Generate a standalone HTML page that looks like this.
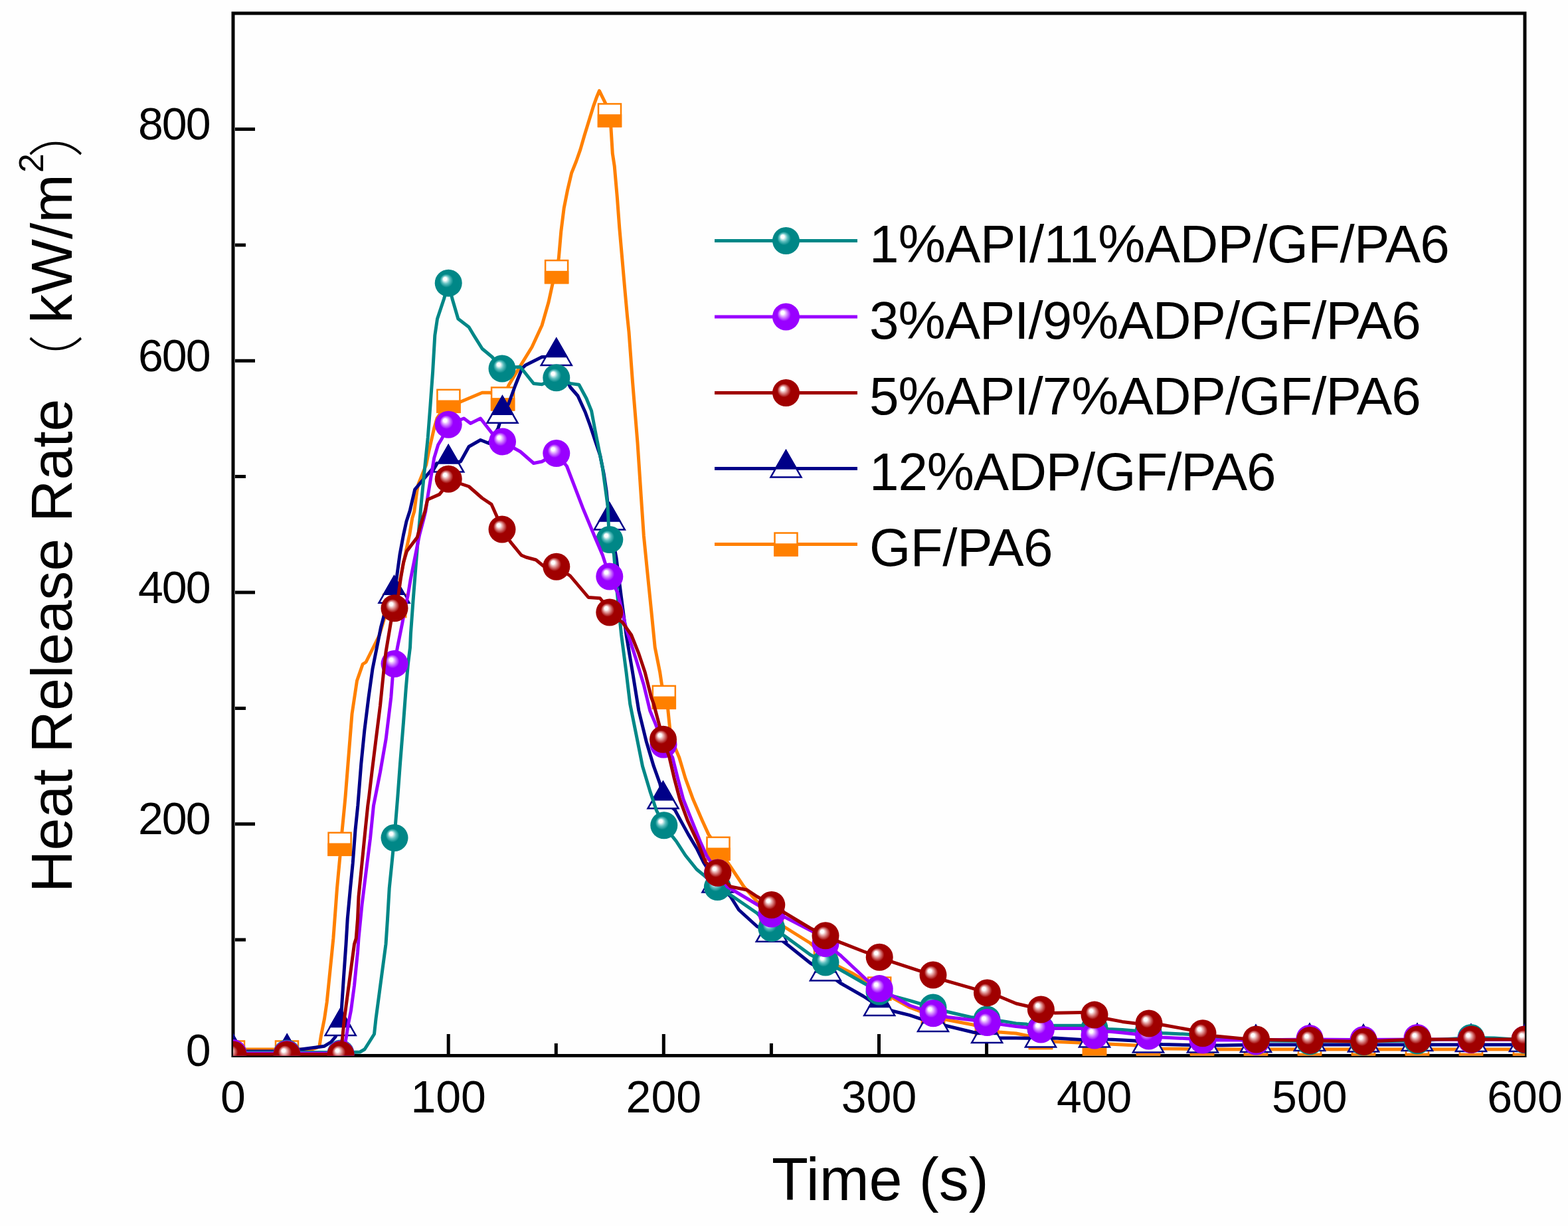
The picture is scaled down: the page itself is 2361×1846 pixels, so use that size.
<!DOCTYPE html>
<html><head><meta charset="utf-8"><title>Heat Release Rate</title>
<style>html,body{margin:0;padding:0;background:#fefefe;overflow:hidden;}svg{display:block;}</style>
</head><body>
<svg xmlns="http://www.w3.org/2000/svg" width="2361" height="1846" viewBox="0 0 2361 1846">
<defs>
<clipPath id="clip"><rect x="351" y="20" width="1945" height="1569.5"/></clipPath>
<radialGradient id="gT" cx="0.5" cy="0.5" r="0.5" fx="0.36" fy="0.33"><stop offset="0" stop-color="#ffffff"/><stop offset="0.12" stop-color="#ffffff"/><stop offset="0.3" stop-color="#60c0c0"/><stop offset="0.5" stop-color="#008787"/><stop offset="1" stop-color="#008787"/></radialGradient>
<radialGradient id="gP" cx="0.5" cy="0.5" r="0.5" fx="0.36" fy="0.33"><stop offset="0" stop-color="#ffffff"/><stop offset="0.12" stop-color="#ffffff"/><stop offset="0.3" stop-color="#d080ff"/><stop offset="0.5" stop-color="#9900ff"/><stop offset="1" stop-color="#9900ff"/></radialGradient>
<radialGradient id="gR" cx="0.5" cy="0.5" r="0.5" fx="0.36" fy="0.33"><stop offset="0" stop-color="#ffffff"/><stop offset="0.12" stop-color="#ffffff"/><stop offset="0.3" stop-color="#d88080"/><stop offset="0.5" stop-color="#a00000"/><stop offset="1" stop-color="#a00000"/></radialGradient>
</defs>
<rect x="0" y="0" width="2361" height="1846" fill="#fefefe"/>
<path d="M513.1 1587V1571 M675.2 1587V1557 M837.3 1587V1571 M999.3 1587V1557 M1161.4 1587V1571 M1323.5 1587V1557 M1485.6 1587V1571 M1647.7 1587V1557 M1809.8 1587V1571 M1971.8 1587V1557 M2133.9 1587V1571 M354 1415.1H370 M354 1240.8H384 M354 1066.4H370 M354 892.0H384 M354 717.6H370 M354 543.2H384 M354 368.9H370 M354 194.5H384" stroke="#000" stroke-width="5" fill="none"/>
<rect x="351" y="20" width="1945" height="1569.5" fill="none" stroke="#000" stroke-width="5"/>
<g clip-path="url(#clip)" fill="none" stroke-linejoin="round" stroke-linecap="round">
<path d="M351.0 1580.0 L432.0 1580.0 L470.0 1580.0 L476.0 1578.0 L481.0 1575.0 L483.5 1559.0 L488.5 1534.0 L492.2 1509.0 L496.0 1471.5 L499.8 1434.0 L501.9 1413.0 L503.8 1387.5 L507.5 1337.5 L511.9 1290.0 L513.0 1271.0 L515.0 1251.9 L518.8 1213.0 L520.0 1200.0 L525.0 1137.5 L530.0 1075.0 L537.5 1025.0 L546.2 1000.0 L551.0 997.0 L571.0 957.0 L578.5 932.0 L594.0 912.0 L603.0 870.0 L611.7 828.0 L616.7 805.0 L620.8 780.0 L623.8 770.0 L627.8 739.4 L629.8 729.4 L633.8 719.5 L641.8 699.6 L645.7 679.6 L653.7 644.8 L658.0 630.0 L675.4 603.8 L693.5 605.0 L726.0 591.2 L738.5 591.2 L757.1 600.4 L766.0 580.0 L781.0 555.0 L801.0 522.5 L816.0 490.0 L826.0 455.0 L832.0 427.5 L838.1 409.1 L841.3 388.7 L844.8 348.4 L849.2 313.2 L854.4 286.9 L860.6 260.5 L867.6 243.0 L873.8 225.4 L879.9 204.3 L886.9 181.5 L894.0 158.6 L898.4 146.3 L902.4 136.7 L906.3 144.6 L911.5 155.1 L918.2 173.4 L920.0 193.4 L922.3 231.2 L925.2 250.0 L929.3 296.8 L932.8 343.7 L936.9 390.5 L941.0 437.4 L944.5 476.0 L947.0 500.0 L952.4 573.7 L960.0 667.0 L965.5 750.0 L969.3 806.2 L974.9 862.4 L980.6 918.6 L986.2 974.8 L993.7 1012.3 L996.5 1031.0 L1000.2 1049.8 L1000.2 1049.8 L1004.9 1060.0 L1008.7 1097.5 L1014.0 1120.0 L1022.7 1140.5 L1032.1 1172.1 L1043.7 1203.8 L1057.4 1235.4 L1066.9 1256.4 L1081.5 1277.7 L1100.0 1305.0 L1120.0 1335.0 L1140.0 1357.5 L1161.8 1378.0 L1180.0 1395.0 L1220.0 1420.0 L1243.0 1440.0 L1262.5 1455.0 L1282.5 1465.0 L1324.2 1489.5 L1345.0 1503.0 L1370.0 1517.0 L1405.0 1530.0 L1423.0 1535.0 L1465.0 1543.0 L1486.0 1549.0 L1504.0 1554.0 L1530.0 1556.0 L1548.0 1559.6 L1567.0 1562.0 L1588.0 1568.4 L1625.0 1570.0 L1648.0 1576.0 L1669.0 1572.0 L1690.0 1573.0 L1708.4 1574.0 L1729.7 1577.0 L1750.0 1579.0 L1791.0 1579.5 L1830.0 1580.0 L2296.0 1580.0" stroke="#ff8000" stroke-width="5"/>
<rect x="334.0" y="1567.5" width="34" height="34" fill="#fff" stroke="#ff8000" stroke-width="2.5" stroke-linejoin="miter"/><rect x="334.0" y="1584.5" width="34" height="17" fill="#ff8000" stroke="#ff8000" stroke-width="2.5" stroke-linejoin="miter"/><rect x="415.0" y="1567.5" width="34" height="34" fill="#fff" stroke="#ff8000" stroke-width="2.5" stroke-linejoin="miter"/><rect x="415.0" y="1584.5" width="34" height="17" fill="#ff8000" stroke="#ff8000" stroke-width="2.5" stroke-linejoin="miter"/><rect x="494.6" y="1253.8" width="34" height="34" fill="#fff" stroke="#ff8000" stroke-width="2.5" stroke-linejoin="miter"/><rect x="494.6" y="1270.8" width="34" height="17" fill="#ff8000" stroke="#ff8000" stroke-width="2.5" stroke-linejoin="miter"/><rect x="577.0" y="895.0" width="34" height="34" fill="#fff" stroke="#ff8000" stroke-width="2.5" stroke-linejoin="miter"/><rect x="577.0" y="912.0" width="34" height="17" fill="#ff8000" stroke="#ff8000" stroke-width="2.5" stroke-linejoin="miter"/><rect x="658.4" y="586.8" width="34" height="34" fill="#fff" stroke="#ff8000" stroke-width="2.5" stroke-linejoin="miter"/><rect x="658.4" y="603.8" width="34" height="17" fill="#ff8000" stroke="#ff8000" stroke-width="2.5" stroke-linejoin="miter"/><rect x="740.1" y="583.4" width="34" height="34" fill="#fff" stroke="#ff8000" stroke-width="2.5" stroke-linejoin="miter"/><rect x="740.1" y="600.4" width="34" height="17" fill="#ff8000" stroke="#ff8000" stroke-width="2.5" stroke-linejoin="miter"/><rect x="821.1" y="392.1" width="34" height="34" fill="#fff" stroke="#ff8000" stroke-width="2.5" stroke-linejoin="miter"/><rect x="821.1" y="409.1" width="34" height="17" fill="#ff8000" stroke="#ff8000" stroke-width="2.5" stroke-linejoin="miter"/><rect x="901.0" y="156.4" width="34" height="34" fill="#fff" stroke="#ff8000" stroke-width="2.5" stroke-linejoin="miter"/><rect x="901.0" y="173.4" width="34" height="17" fill="#ff8000" stroke="#ff8000" stroke-width="2.5" stroke-linejoin="miter"/><rect x="982.8" y="1032.8" width="34" height="34" fill="#fff" stroke="#ff8000" stroke-width="2.5" stroke-linejoin="miter"/><rect x="982.8" y="1049.8" width="34" height="17" fill="#ff8000" stroke="#ff8000" stroke-width="2.5" stroke-linejoin="miter"/><rect x="1064.5" y="1260.7" width="34" height="34" fill="#fff" stroke="#ff8000" stroke-width="2.5" stroke-linejoin="miter"/><rect x="1064.5" y="1277.7" width="34" height="17" fill="#ff8000" stroke="#ff8000" stroke-width="2.5" stroke-linejoin="miter"/><rect x="1144.8" y="1361.0" width="34" height="34" fill="#fff" stroke="#ff8000" stroke-width="2.5" stroke-linejoin="miter"/><rect x="1144.8" y="1378.0" width="34" height="17" fill="#ff8000" stroke="#ff8000" stroke-width="2.5" stroke-linejoin="miter"/><rect x="1226.0" y="1423.0" width="34" height="34" fill="#fff" stroke="#ff8000" stroke-width="2.5" stroke-linejoin="miter"/><rect x="1226.0" y="1440.0" width="34" height="17" fill="#ff8000" stroke="#ff8000" stroke-width="2.5" stroke-linejoin="miter"/><rect x="1307.2" y="1471.6" width="34" height="34" fill="#fff" stroke="#ff8000" stroke-width="2.5" stroke-linejoin="miter"/><rect x="1307.2" y="1488.6" width="34" height="17" fill="#ff8000" stroke="#ff8000" stroke-width="2.5" stroke-linejoin="miter"/><rect x="1388.0" y="1513.0" width="34" height="34" fill="#fff" stroke="#ff8000" stroke-width="2.5" stroke-linejoin="miter"/><rect x="1388.0" y="1530.0" width="34" height="17" fill="#ff8000" stroke="#ff8000" stroke-width="2.5" stroke-linejoin="miter"/><rect x="1469.0" y="1532.0" width="34" height="34" fill="#fff" stroke="#ff8000" stroke-width="2.5" stroke-linejoin="miter"/><rect x="1469.0" y="1549.0" width="34" height="17" fill="#ff8000" stroke="#ff8000" stroke-width="2.5" stroke-linejoin="miter"/><rect x="1550.0" y="1545.0" width="34" height="34" fill="#fff" stroke="#ff8000" stroke-width="2.5" stroke-linejoin="miter"/><rect x="1550.0" y="1562.0" width="34" height="17" fill="#ff8000" stroke="#ff8000" stroke-width="2.5" stroke-linejoin="miter"/><rect x="1631.0" y="1561.8" width="34" height="34" fill="#fff" stroke="#ff8000" stroke-width="2.5" stroke-linejoin="miter"/><rect x="1631.0" y="1578.8" width="34" height="17" fill="#ff8000" stroke="#ff8000" stroke-width="2.5" stroke-linejoin="miter"/><rect x="1712.0" y="1570.0" width="34" height="34" fill="#fff" stroke="#ff8000" stroke-width="2.5" stroke-linejoin="miter"/><rect x="1712.0" y="1587.0" width="34" height="17" fill="#ff8000" stroke="#ff8000" stroke-width="2.5" stroke-linejoin="miter"/><rect x="1793.0" y="1570.0" width="34" height="34" fill="#fff" stroke="#ff8000" stroke-width="2.5" stroke-linejoin="miter"/><rect x="1793.0" y="1587.0" width="34" height="17" fill="#ff8000" stroke="#ff8000" stroke-width="2.5" stroke-linejoin="miter"/><rect x="1874.0" y="1570.0" width="34" height="34" fill="#fff" stroke="#ff8000" stroke-width="2.5" stroke-linejoin="miter"/><rect x="1874.0" y="1587.0" width="34" height="17" fill="#ff8000" stroke="#ff8000" stroke-width="2.5" stroke-linejoin="miter"/><rect x="1955.0" y="1570.0" width="34" height="34" fill="#fff" stroke="#ff8000" stroke-width="2.5" stroke-linejoin="miter"/><rect x="1955.0" y="1587.0" width="34" height="17" fill="#ff8000" stroke="#ff8000" stroke-width="2.5" stroke-linejoin="miter"/><rect x="2036.0" y="1570.0" width="34" height="34" fill="#fff" stroke="#ff8000" stroke-width="2.5" stroke-linejoin="miter"/><rect x="2036.0" y="1587.0" width="34" height="17" fill="#ff8000" stroke="#ff8000" stroke-width="2.5" stroke-linejoin="miter"/><rect x="2117.0" y="1570.0" width="34" height="34" fill="#fff" stroke="#ff8000" stroke-width="2.5" stroke-linejoin="miter"/><rect x="2117.0" y="1587.0" width="34" height="17" fill="#ff8000" stroke="#ff8000" stroke-width="2.5" stroke-linejoin="miter"/><rect x="2198.0" y="1570.0" width="34" height="34" fill="#fff" stroke="#ff8000" stroke-width="2.5" stroke-linejoin="miter"/><rect x="2198.0" y="1587.0" width="34" height="17" fill="#ff8000" stroke="#ff8000" stroke-width="2.5" stroke-linejoin="miter"/><rect x="2279.0" y="1570.0" width="34" height="34" fill="#fff" stroke="#ff8000" stroke-width="2.5" stroke-linejoin="miter"/><rect x="2279.0" y="1587.0" width="34" height="17" fill="#ff8000" stroke="#ff8000" stroke-width="2.5" stroke-linejoin="miter"/>
<path d="M351.0 1583.0 L430.0 1583.0 L476.0 1577.0 L488.5 1575.2 L498.5 1569.0 L504.8 1561.5 L512.7 1546.0 L515.0 1509.0 L517.5 1471.5 L521.0 1421.5 L523.2 1384.0 L527.5 1337.5 L531.2 1300.0 L535.0 1250.0 L538.8 1213.0 L543.8 1150.0 L548.8 1100.0 L555.0 1050.0 L561.0 1007.0 L573.5 944.5 L583.5 907.0 L593.5 894.8 L597.6 867.3 L602.0 835.0 L607.4 805.9 L612.0 785.0 L617.2 769.1 L624.6 737.2 L636.9 722.5 L651.6 705.3 L657.7 697.6 L675.2 697.6 L693.5 695.0 L706.0 672.5 L723.5 662.5 L736.0 667.5 L750.0 645.0 L756.5 623.8 L766.0 607.5 L776.0 580.0 L786.0 555.0 L791.0 550.0 L816.0 537.5 L837.8 537.0 L850.0 565.0 L858.7 583.0 L870.0 596.0 L881.2 620.5 L888.7 641.0 L896.2 663.6 L903.7 686.0 L909.3 714.0 L913.0 738.5 L917.8 784.5 L928.0 840.0 L935.6 900.0 L943.0 956.0 L952.5 1012.3 L961.8 1070.0 L973.1 1116.2 L984.3 1153.7 L993.7 1179.9 L999.3 1204.3 L1016.3 1219.6 L1024.8 1235.4 L1036.4 1256.4 L1049.0 1277.5 L1059.5 1298.6 L1070.0 1315.0 L1080.5 1330.4 L1100.0 1350.0 L1112.5 1370.0 L1140.0 1395.0 L1161.8 1404.8 L1182.5 1420.0 L1220.0 1450.0 L1243.0 1463.5 L1265.0 1480.0 L1300.0 1500.0 L1324.2 1516.0 L1345.0 1522.5 L1370.0 1528.6 L1384.7 1533.7 L1405.0 1540.0 L1422.7 1544.0 L1465.2 1554.2 L1486.2 1557.0 L1505.5 1563.0 L1530.0 1563.0 L1567.0 1563.5 L1588.0 1563.0 L1629.0 1565.5 L1648.0 1563.5 L1669.0 1565.0 L1690.0 1566.0 L1708.4 1567.0 L1729.7 1571.0 L1750.0 1572.5 L1791.0 1573.5 L1811.0 1574.0 L1840.0 1574.0 L1891.0 1573.0 L2296.0 1573.0" stroke="#000088" stroke-width="5"/>
<path d="M351.0 1558.0L374.0 1598.0L328.0 1598.0Z" fill="#fff" stroke="#000088" stroke-width="2.5" stroke-linejoin="miter"/><path d="M351.0 1558.0L366.5 1585.0L335.5 1585.0Z" fill="#000088" stroke="#000088" stroke-width="2.5" stroke-linejoin="miter"/><path d="M432.2 1558.0L455.2 1598.0L409.2 1598.0Z" fill="#fff" stroke="#000088" stroke-width="2.5" stroke-linejoin="miter"/><path d="M432.2 1558.0L447.8 1585.0L416.7 1585.0Z" fill="#000088" stroke="#000088" stroke-width="2.5" stroke-linejoin="miter"/><path d="M512.7 1519.0L535.7 1559.0L489.7 1559.0Z" fill="#fff" stroke="#000088" stroke-width="2.5" stroke-linejoin="miter"/><path d="M512.7 1519.0L528.2 1546.0L497.2 1546.0Z" fill="#000088" stroke="#000088" stroke-width="2.5" stroke-linejoin="miter"/><path d="M593.5 867.8L616.5 907.8L570.5 907.8Z" fill="#fff" stroke="#000088" stroke-width="2.5" stroke-linejoin="miter"/><path d="M593.5 867.8L609.0 894.8L578.0 894.8Z" fill="#000088" stroke="#000088" stroke-width="2.5" stroke-linejoin="miter"/><path d="M675.2 670.6L698.2 710.6L652.2 710.6Z" fill="#fff" stroke="#000088" stroke-width="2.5" stroke-linejoin="miter"/><path d="M675.2 670.6L690.8 697.6L659.7 697.6Z" fill="#000088" stroke="#000088" stroke-width="2.5" stroke-linejoin="miter"/><path d="M756.5 596.8L779.5 636.8L733.5 636.8Z" fill="#fff" stroke="#000088" stroke-width="2.5" stroke-linejoin="miter"/><path d="M756.5 596.8L772.0 623.8L741.0 623.8Z" fill="#000088" stroke="#000088" stroke-width="2.5" stroke-linejoin="miter"/><path d="M837.8 510.0L860.8 550.0L814.8 550.0Z" fill="#fff" stroke="#000088" stroke-width="2.5" stroke-linejoin="miter"/><path d="M837.8 510.0L853.3 537.0L822.2 537.0Z" fill="#000088" stroke="#000088" stroke-width="2.5" stroke-linejoin="miter"/><path d="M917.8 757.5L940.8 797.5L894.8 797.5Z" fill="#fff" stroke="#000088" stroke-width="2.5" stroke-linejoin="miter"/><path d="M917.8 757.5L933.3 784.5L902.2 784.5Z" fill="#000088" stroke="#000088" stroke-width="2.5" stroke-linejoin="miter"/><path d="M998.5 1177.3L1021.5 1217.3L975.5 1217.3Z" fill="#fff" stroke="#000088" stroke-width="2.5" stroke-linejoin="miter"/><path d="M998.5 1177.3L1014.0 1204.3L983.0 1204.3Z" fill="#000088" stroke="#000088" stroke-width="2.5" stroke-linejoin="miter"/><path d="M1080.5 1303.4L1103.5 1343.4L1057.5 1343.4Z" fill="#fff" stroke="#000088" stroke-width="2.5" stroke-linejoin="miter"/><path d="M1080.5 1303.4L1096.0 1330.4L1065.0 1330.4Z" fill="#000088" stroke="#000088" stroke-width="2.5" stroke-linejoin="miter"/><path d="M1161.8 1377.8L1184.8 1417.8L1138.8 1417.8Z" fill="#fff" stroke="#000088" stroke-width="2.5" stroke-linejoin="miter"/><path d="M1161.8 1377.8L1177.3 1404.8L1146.2 1404.8Z" fill="#000088" stroke="#000088" stroke-width="2.5" stroke-linejoin="miter"/><path d="M1243.0 1436.5L1266.0 1476.5L1220.0 1476.5Z" fill="#fff" stroke="#000088" stroke-width="2.5" stroke-linejoin="miter"/><path d="M1243.0 1436.5L1258.5 1463.5L1227.5 1463.5Z" fill="#000088" stroke="#000088" stroke-width="2.5" stroke-linejoin="miter"/><path d="M1324.2 1489.0L1347.2 1529.0L1301.2 1529.0Z" fill="#fff" stroke="#000088" stroke-width="2.5" stroke-linejoin="miter"/><path d="M1324.2 1489.0L1339.8 1516.0L1308.7 1516.0Z" fill="#000088" stroke="#000088" stroke-width="2.5" stroke-linejoin="miter"/><path d="M1405.0 1513.0L1428.0 1553.0L1382.0 1553.0Z" fill="#fff" stroke="#000088" stroke-width="2.5" stroke-linejoin="miter"/><path d="M1405.0 1513.0L1420.5 1540.0L1389.5 1540.0Z" fill="#000088" stroke="#000088" stroke-width="2.5" stroke-linejoin="miter"/><path d="M1486.2 1530.0L1509.2 1570.0L1463.2 1570.0Z" fill="#fff" stroke="#000088" stroke-width="2.5" stroke-linejoin="miter"/><path d="M1486.2 1530.0L1501.8 1557.0L1470.7 1557.0Z" fill="#000088" stroke="#000088" stroke-width="2.5" stroke-linejoin="miter"/><path d="M1567.0 1536.5L1590.0 1576.5L1544.0 1576.5Z" fill="#fff" stroke="#000088" stroke-width="2.5" stroke-linejoin="miter"/><path d="M1567.0 1536.5L1582.5 1563.5L1551.5 1563.5Z" fill="#000088" stroke="#000088" stroke-width="2.5" stroke-linejoin="miter"/><path d="M1648.0 1536.5L1671.0 1576.5L1625.0 1576.5Z" fill="#fff" stroke="#000088" stroke-width="2.5" stroke-linejoin="miter"/><path d="M1648.0 1536.5L1663.5 1563.5L1632.5 1563.5Z" fill="#000088" stroke="#000088" stroke-width="2.5" stroke-linejoin="miter"/><path d="M1729.0 1544.5L1752.0 1584.5L1706.0 1584.5Z" fill="#fff" stroke="#000088" stroke-width="2.5" stroke-linejoin="miter"/><path d="M1729.0 1544.5L1744.5 1571.5L1713.5 1571.5Z" fill="#000088" stroke="#000088" stroke-width="2.5" stroke-linejoin="miter"/><path d="M1811.0 1544.5L1834.0 1584.5L1788.0 1584.5Z" fill="#fff" stroke="#000088" stroke-width="2.5" stroke-linejoin="miter"/><path d="M1811.0 1544.5L1826.5 1571.5L1795.5 1571.5Z" fill="#000088" stroke="#000088" stroke-width="2.5" stroke-linejoin="miter"/><path d="M1891.0 1544.0L1914.0 1584.0L1868.0 1584.0Z" fill="#fff" stroke="#000088" stroke-width="2.5" stroke-linejoin="miter"/><path d="M1891.0 1544.0L1906.5 1571.0L1875.5 1571.0Z" fill="#000088" stroke="#000088" stroke-width="2.5" stroke-linejoin="miter"/><path d="M1972.0 1542.0L1995.0 1582.0L1949.0 1582.0Z" fill="#fff" stroke="#000088" stroke-width="2.5" stroke-linejoin="miter"/><path d="M1972.0 1542.0L1987.5 1569.0L1956.5 1569.0Z" fill="#000088" stroke="#000088" stroke-width="2.5" stroke-linejoin="miter"/><path d="M2053.0 1543.6L2076.0 1583.6L2030.0 1583.6Z" fill="#fff" stroke="#000088" stroke-width="2.5" stroke-linejoin="miter"/><path d="M2053.0 1543.6L2068.5 1570.6L2037.5 1570.6Z" fill="#000088" stroke="#000088" stroke-width="2.5" stroke-linejoin="miter"/><path d="M2134.0 1542.0L2157.0 1582.0L2111.0 1582.0Z" fill="#fff" stroke="#000088" stroke-width="2.5" stroke-linejoin="miter"/><path d="M2134.0 1542.0L2149.5 1569.0L2118.5 1569.0Z" fill="#000088" stroke="#000088" stroke-width="2.5" stroke-linejoin="miter"/><path d="M2215.0 1543.0L2238.0 1583.0L2192.0 1583.0Z" fill="#fff" stroke="#000088" stroke-width="2.5" stroke-linejoin="miter"/><path d="M2215.0 1543.0L2230.5 1570.0L2199.5 1570.0Z" fill="#000088" stroke="#000088" stroke-width="2.5" stroke-linejoin="miter"/><path d="M2296.0 1543.0L2319.0 1583.0L2273.0 1583.0Z" fill="#fff" stroke="#000088" stroke-width="2.5" stroke-linejoin="miter"/><path d="M2296.0 1543.0L2311.5 1570.0L2280.5 1570.0Z" fill="#000088" stroke="#000088" stroke-width="2.5" stroke-linejoin="miter"/>
<path d="M351.0 1584.5 L430.0 1584.5 L500.0 1584.5 L530.0 1584.5 L542.0 1584.0 L549.0 1580.0 L556.0 1569.0 L563.5 1557.0 L566.0 1534.0 L571.0 1496.5 L576.0 1459.0 L581.0 1421.5 L583.5 1384.0 L586.2 1337.5 L590.0 1300.0 L593.8 1261.2 L598.8 1200.0 L602.5 1150.0 L607.5 1087.5 L611.2 1037.5 L614.4 1000.0 L617.5 975.0 L618.5 953.4 L622.0 905.0 L625.9 855.0 L630.0 805.0 L634.4 756.7 L639.5 705.0 L644.3 658.4 L648.0 610.0 L651.6 560.0 L654.8 505.0 L658.5 480.0 L668.5 450.0 L675.2 426.2 L681.0 450.0 L689.8 480.0 L706.0 492.5 L713.5 505.0 L726.0 525.0 L741.0 537.5 L756.0 555.0 L770.0 553.0 L783.5 552.5 L803.5 577.5 L816.0 578.8 L837.8 568.8 L858.7 577.4 L871.8 579.3 L883.0 600.0 L890.6 618.6 L896.2 648.6 L901.8 676.7 L907.4 704.8 L911.2 732.9 L915.0 761.0 L916.8 800.0 L917.8 812.5 L924.4 834.3 L928.1 881.0 L935.6 956.0 L943.0 1012.3 L948.7 1060.0 L958.1 1106.8 L967.5 1153.7 L978.7 1191.1 L988.1 1219.3 L999.3 1242.7 L1018.5 1267.0 L1032.1 1288.0 L1049.0 1309.0 L1060.0 1318.0 L1080.4 1335.5 L1100.0 1347.5 L1140.0 1375.0 L1161.8 1397.5 L1182.5 1410.0 L1220.0 1437.5 L1243.0 1449.0 L1265.0 1460.0 L1300.0 1480.0 L1324.0 1493.0 L1345.0 1500.0 L1370.0 1506.6 L1405.0 1517.0 L1427.0 1523.5 L1461.6 1531.5 L1486.0 1535.0 L1509.0 1537.4 L1530.0 1541.0 L1545.0 1542.0 L1567.0 1549.0 L1588.0 1544.2 L1629.0 1544.2 L1648.0 1548.0 L1669.0 1549.5 L1690.0 1550.5 L1708.4 1552.0 L1730.0 1554.0 L1750.0 1555.5 L1791.0 1557.5 L1811.0 1560.0 L1840.0 1564.0 L1891.0 1567.0 L1972.0 1567.5 L2053.0 1568.0 L2134.0 1567.0 L2190.0 1564.0 L2215.0 1562.5 L2250.0 1563.0 L2296.0 1566.0" stroke="#008787" stroke-width="5"/>
<circle cx="351.0" cy="1586.0" r="20.5" fill="url(#gT)"/><circle cx="432.0" cy="1586.0" r="20.5" fill="url(#gT)"/><circle cx="513.0" cy="1586.0" r="20.5" fill="url(#gT)"/><circle cx="594.0" cy="1261.5" r="20.5" fill="url(#gT)"/><circle cx="675.2" cy="426.2" r="20.5" fill="url(#gT)"/><circle cx="756.0" cy="555.0" r="20.5" fill="url(#gT)"/><circle cx="837.8" cy="568.8" r="20.5" fill="url(#gT)"/><circle cx="917.8" cy="812.5" r="20.5" fill="url(#gT)"/><circle cx="999.8" cy="1242.7" r="20.5" fill="url(#gT)"/><circle cx="1080.4" cy="1335.5" r="20.5" fill="url(#gT)"/><circle cx="1161.8" cy="1397.5" r="20.5" fill="url(#gT)"/><circle cx="1243.0" cy="1449.0" r="20.5" fill="url(#gT)"/><circle cx="1324.0" cy="1493.0" r="20.5" fill="url(#gT)"/><circle cx="1405.0" cy="1517.0" r="20.5" fill="url(#gT)"/><circle cx="1486.0" cy="1535.0" r="20.5" fill="url(#gT)"/><circle cx="1567.0" cy="1549.0" r="20.5" fill="url(#gT)"/><circle cx="1648.0" cy="1548.0" r="20.5" fill="url(#gT)"/><circle cx="1729.0" cy="1553.0" r="20.5" fill="url(#gT)"/><circle cx="1811.0" cy="1562.0" r="20.5" fill="url(#gT)"/><circle cx="1891.0" cy="1568.0" r="20.5" fill="url(#gT)"/><circle cx="1972.0" cy="1568.0" r="20.5" fill="url(#gT)"/><circle cx="2053.0" cy="1569.0" r="20.5" fill="url(#gT)"/><circle cx="2134.0" cy="1567.0" r="20.5" fill="url(#gT)"/><circle cx="2215.0" cy="1562.5" r="20.5" fill="url(#gT)"/><circle cx="2296.0" cy="1566.0" r="20.5" fill="url(#gT)"/>
<path d="M351.0 1586.0 L430.0 1586.0 L510.0 1586.0 L515.0 1582.0 L520.0 1570.0 L524.8 1540.0 L528.5 1521.5 L533.5 1484.0 L538.5 1434.0 L540.0 1413.0 L545.0 1362.5 L551.2 1312.5 L557.5 1262.5 L562.5 1213.0 L572.5 1162.5 L581.2 1112.5 L588.8 1050.0 L591.2 1018.8 L594.0 999.5 L598.5 974.5 L606.0 937.0 L610.0 915.0 L614.2 896.7 L618.3 871.7 L623.3 846.7 L627.5 825.8 L631.7 805.0 L638.3 780.0 L640.8 770.0 L643.8 749.3 L648.7 719.5 L653.7 689.6 L659.7 669.7 L665.7 659.7 L675.2 639.2 L698.5 630.0 L708.5 637.5 L723.5 630.0 L741.0 652.5 L756.5 665.0 L783.5 680.0 L803.5 697.5 L816.0 695.0 L837.8 682.5 L853.5 702.0 L877.5 764.7 L896.2 809.7 L907.4 836.0 L917.8 868.2 L930.0 892.4 L943.0 946.7 L958.0 993.6 L969.3 1031.0 L978.7 1070.0 L986.2 1088.1 L999.0 1121.0 L1012.7 1140.5 L1020.6 1172.1 L1029.0 1203.8 L1041.6 1235.4 L1054.3 1267.0 L1063.8 1288.0 L1080.5 1314.0 L1095.0 1335.0 L1140.0 1362.0 L1161.8 1376.0 L1182.9 1381.6 L1223.4 1402.5 L1243.0 1420.6 L1265.2 1438.2 L1304.6 1475.0 L1324.2 1488.6 L1345.0 1500.0 L1370.0 1514.0 L1405.2 1525.7 L1427.0 1531.5 L1465.0 1536.0 L1486.5 1539.6 L1530.0 1545.5 L1547.0 1547.3 L1567.4 1550.0 L1588.0 1548.6 L1629.0 1548.6 L1648.0 1559.0 L1669.0 1553.0 L1690.0 1555.0 L1708.4 1557.0 L1729.7 1560.0 L1750.0 1562.0 L1791.0 1564.0 L1811.0 1566.0 L1840.0 1566.0 L1871.7 1566.0 L1891.0 1566.0 L1930.0 1565.5 L1972.0 1565.0 L2053.0 1565.5 L2134.0 1565.0 L2215.0 1565.5 L2296.0 1565.5" stroke="#9900ff" stroke-width="5"/>
<circle cx="351.0" cy="1585.5" r="20.5" fill="url(#gP)"/><circle cx="432.0" cy="1587.0" r="20.5" fill="url(#gP)"/><circle cx="513.0" cy="1587.0" r="20.5" fill="url(#gP)"/><circle cx="594.0" cy="999.5" r="20.5" fill="url(#gP)"/><circle cx="675.2" cy="639.2" r="20.5" fill="url(#gP)"/><circle cx="756.5" cy="665.0" r="20.5" fill="url(#gP)"/><circle cx="837.8" cy="682.5" r="20.5" fill="url(#gP)"/><circle cx="917.8" cy="868.0" r="20.5" fill="url(#gP)"/><circle cx="999.0" cy="1121.0" r="20.5" fill="url(#gP)"/><circle cx="1080.5" cy="1314.0" r="20.5" fill="url(#gP)"/><circle cx="1161.8" cy="1376.0" r="20.5" fill="url(#gP)"/><circle cx="1243.0" cy="1420.6" r="20.5" fill="url(#gP)"/><circle cx="1324.2" cy="1488.6" r="20.5" fill="url(#gP)"/><circle cx="1405.2" cy="1525.7" r="20.5" fill="url(#gP)"/><circle cx="1486.5" cy="1539.6" r="20.5" fill="url(#gP)"/><circle cx="1567.4" cy="1550.0" r="20.5" fill="url(#gP)"/><circle cx="1648.0" cy="1559.0" r="20.5" fill="url(#gP)"/><circle cx="1729.7" cy="1560.0" r="20.5" fill="url(#gP)"/><circle cx="1811.0" cy="1566.0" r="20.5" fill="url(#gP)"/><circle cx="1891.0" cy="1568.0" r="20.5" fill="url(#gP)"/><circle cx="1972.0" cy="1563.5" r="20.5" fill="url(#gP)"/><circle cx="2053.0" cy="1565.5" r="20.5" fill="url(#gP)"/><circle cx="2134.0" cy="1562.5" r="20.5" fill="url(#gP)"/><circle cx="2215.0" cy="1565.5" r="20.5" fill="url(#gP)"/><circle cx="2296.0" cy="1565.0" r="20.5" fill="url(#gP)"/>
<path d="M351.0 1587.5 L432.0 1587.5 L513.0 1587.5 L516.0 1559.0 L518.5 1534.0 L523.5 1496.5 L528.5 1459.0 L533.5 1421.5 L536.2 1413.0 L538.5 1384.0 L540.0 1350.0 L545.0 1300.0 L550.0 1250.0 L553.8 1213.0 L555.6 1200.0 L560.0 1162.5 L566.2 1112.5 L572.5 1062.5 L578.8 1000.0 L581.0 982.0 L588.5 937.0 L594.0 915.8 L600.0 895.0 L603.3 871.7 L607.5 846.7 L612.5 830.0 L620.0 820.0 L628.3 809.0 L633.5 790.0 L639.8 770.0 L643.8 752.3 L661.7 744.4 L665.7 739.4 L675.2 721.2 L691.0 727.5 L706.0 732.5 L726.0 750.0 L740.0 759.4 L747.4 776.0 L756.0 797.0 L768.5 815.8 L785.0 836.0 L792.0 839.0 L807.0 843.0 L818.0 852.0 L837.8 853.2 L858.5 867.0 L886.0 899.5 L903.5 900.8 L908.5 907.0 L917.8 922.0 L937.5 937.4 L950.6 956.0 L961.8 984.2 L971.2 1012.3 L980.6 1049.8 L984.3 1060.0 L991.8 1088.1 L999.3 1115.3 L1007.9 1140.5 L1015.3 1172.1 L1023.7 1203.8 L1035.3 1235.4 L1050.0 1267.0 L1062.7 1298.6 L1080.8 1314.2 L1100.0 1335.0 L1125.0 1340.0 L1140.0 1350.0 L1161.8 1362.5 L1182.5 1375.0 L1220.0 1397.5 L1243.0 1408.8 L1265.0 1418.8 L1300.0 1432.5 L1324.2 1441.2 L1345.0 1448.8 L1382.5 1461.2 L1405.0 1468.0 L1424.0 1476.6 L1465.0 1488.3 L1486.5 1494.9 L1505.5 1500.8 L1530.0 1511.0 L1545.0 1514.5 L1567.4 1520.0 L1588.0 1525.2 L1629.0 1524.4 L1648.0 1528.1 L1667.0 1534.0 L1690.0 1538.4 L1708.4 1540.8 L1730.0 1541.0 L1749.7 1543.0 L1791.0 1550.5 L1811.0 1555.8 L1830.4 1560.0 L1871.7 1564.0 L1891.6 1565.0 L1930.0 1566.0 L1972.4 1566.4 L2010.0 1567.5 L2053.8 1568.4 L2095.0 1566.5 L2134.9 1565.0 L2215.7 1565.0 L2296.0 1565.0" stroke="#a00000" stroke-width="5"/>
<circle cx="351.0" cy="1588.0" r="20.5" fill="url(#gR)"/><circle cx="432.0" cy="1588.0" r="20.5" fill="url(#gR)"/><circle cx="513.0" cy="1588.0" r="20.5" fill="url(#gR)"/><circle cx="594.0" cy="915.8" r="20.5" fill="url(#gR)"/><circle cx="675.2" cy="721.2" r="20.5" fill="url(#gR)"/><circle cx="756.0" cy="797.0" r="20.5" fill="url(#gR)"/><circle cx="837.8" cy="853.2" r="20.5" fill="url(#gR)"/><circle cx="917.8" cy="922.0" r="20.5" fill="url(#gR)"/><circle cx="998.5" cy="1113.2" r="20.5" fill="url(#gR)"/><circle cx="1080.8" cy="1314.2" r="20.5" fill="url(#gR)"/><circle cx="1161.8" cy="1362.5" r="20.5" fill="url(#gR)"/><circle cx="1243.0" cy="1408.8" r="20.5" fill="url(#gR)"/><circle cx="1324.2" cy="1441.2" r="20.5" fill="url(#gR)"/><circle cx="1405.0" cy="1468.0" r="20.5" fill="url(#gR)"/><circle cx="1486.5" cy="1494.9" r="20.5" fill="url(#gR)"/><circle cx="1567.4" cy="1520.0" r="20.5" fill="url(#gR)"/><circle cx="1648.0" cy="1528.1" r="20.5" fill="url(#gR)"/><circle cx="1730.0" cy="1541.0" r="20.5" fill="url(#gR)"/><circle cx="1811.0" cy="1555.8" r="20.5" fill="url(#gR)"/><circle cx="1891.6" cy="1565.0" r="20.5" fill="url(#gR)"/><circle cx="1972.4" cy="1566.4" r="20.5" fill="url(#gR)"/><circle cx="2053.8" cy="1568.4" r="20.5" fill="url(#gR)"/><circle cx="2134.9" cy="1565.0" r="20.5" fill="url(#gR)"/><circle cx="2215.7" cy="1565.0" r="20.5" fill="url(#gR)"/><circle cx="2296.0" cy="1565.0" r="20.5" fill="url(#gR)"/>
</g>
<g font-family="Liberation Sans, Arial, sans-serif" font-size="68" fill="#000">
<text x="351.0" y="1675" text-anchor="middle">0</text>
<text x="675.2" y="1675" text-anchor="middle">100</text>
<text x="999.3" y="1675" text-anchor="middle">200</text>
<text x="1323.5" y="1675" text-anchor="middle">300</text>
<text x="1647.7" y="1675" text-anchor="middle">400</text>
<text x="1971.8" y="1675" text-anchor="middle">500</text>
<text x="2296.0" y="1675" text-anchor="middle">600</text>
<text x="317.5" y="1605.0" text-anchor="end">0</text>
<text x="317.5" y="1256.2" text-anchor="end" textLength="109.5" lengthAdjust="spacing">200</text>
<text x="317.5" y="907.5" text-anchor="end" textLength="109.5" lengthAdjust="spacing">400</text>
<text x="317.5" y="558.8" text-anchor="end" textLength="109.5" lengthAdjust="spacing">600</text>
<text x="317.5" y="210.0" text-anchor="end" textLength="109.5" lengthAdjust="spacing">800</text>
</g>
<text x="1162" y="1807" font-family="Liberation Sans, Arial, sans-serif" font-size="90" fill="#000">Time (s)</text>
<g font-family="Liberation Sans, Arial, sans-serif" fill="#000">
<text transform="translate(108 1344) rotate(-90)" font-size="88">Heat Release Rate</text>
<text transform="translate(108 487) rotate(-90)" font-size="88">kW/m</text>
<text transform="translate(65 260) rotate(-90)" font-size="52">2</text>
</g>
<g font-family="'Noto Sans CJK JP', sans-serif" font-weight="300" font-size="83" fill="#000">
<text transform="translate(114.7 586.5) rotate(-90)">（</text>
<text transform="translate(114.7 237.6) rotate(-90)">）</text>
</g>
<path d="M1076 362.5H1291" stroke="#008787" stroke-width="5"/>
<circle cx="1183.5" cy="362.5" r="20.5" fill="url(#gT)"/>
<text x="1309" y="395.0" font-family="Liberation Sans, Arial, sans-serif" font-size="80" fill="#000" textLength="873.8" lengthAdjust="spacing">1%API/11%ADP/GF/PA6</text>
<path d="M1076 477H1291" stroke="#9900ff" stroke-width="5"/>
<circle cx="1183.5" cy="477.0" r="20.5" fill="url(#gP)"/>
<text x="1309" y="509.5" font-family="Liberation Sans, Arial, sans-serif" font-size="80" fill="#000" textLength="830.7" lengthAdjust="spacing">3%API/9%ADP/GF/PA6</text>
<path d="M1076 591.5H1291" stroke="#a00000" stroke-width="5"/>
<circle cx="1183.5" cy="591.5" r="20.5" fill="url(#gR)"/>
<text x="1309" y="624.0" font-family="Liberation Sans, Arial, sans-serif" font-size="80" fill="#000" textLength="830.7" lengthAdjust="spacing">5%API/7%ADP/GF/PA6</text>
<path d="M1076 705.5H1291" stroke="#000088" stroke-width="5"/>
<path d="M1183.5 678.5L1206.5 718.5L1160.5 718.5Z" fill="#fff" stroke="#000088" stroke-width="2.5" stroke-linejoin="miter"/><path d="M1183.5 678.5L1199.0 705.5L1168.0 705.5Z" fill="#000088" stroke="#000088" stroke-width="2.5" stroke-linejoin="miter"/>
<text x="1309" y="738.0" font-family="Liberation Sans, Arial, sans-serif" font-size="80" fill="#000" textLength="612.4" lengthAdjust="spacing">12%ADP/GF/PA6</text>
<path d="M1076 819.5H1291" stroke="#ff8000" stroke-width="5"/>
<rect x="1166.5" y="802.5" width="34" height="34" fill="#fff" stroke="#ff8000" stroke-width="2.5" stroke-linejoin="miter"/><rect x="1166.5" y="819.5" width="34" height="17" fill="#ff8000" stroke="#ff8000" stroke-width="2.5" stroke-linejoin="miter"/>
<text x="1309" y="852.0" font-family="Liberation Sans, Arial, sans-serif" font-size="80" fill="#000" textLength="276.6" lengthAdjust="spacing">GF/PA6</text>
</svg>
</body></html>
